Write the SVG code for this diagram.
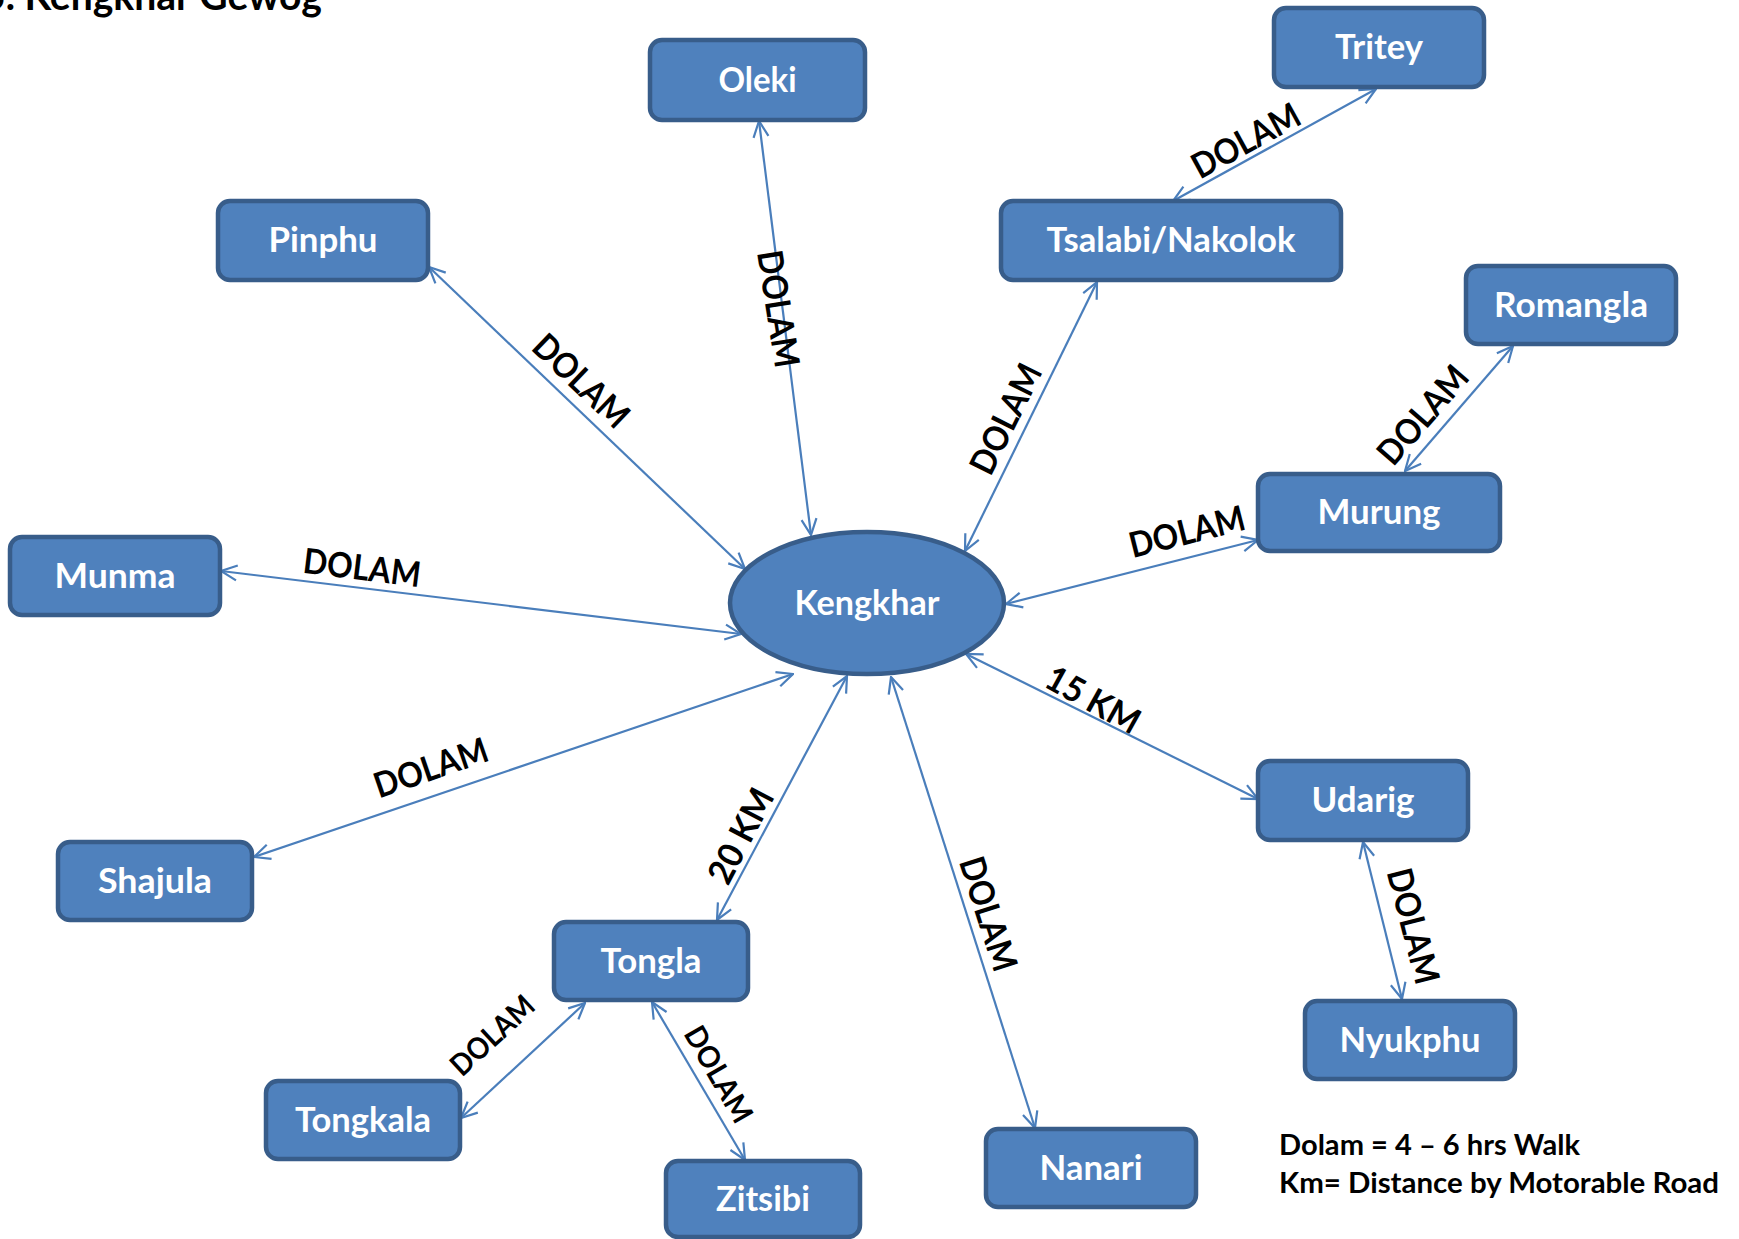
<svg xmlns="http://www.w3.org/2000/svg" width="1739" height="1239" viewBox="0 0 1739 1239">
<defs>
<marker id="ah" markerUnits="userSpaceOnUse" viewBox="0 0 18 18" markerWidth="18" markerHeight="18" refX="17" refY="9" orient="auto-start-reverse">
<path d="M1,1.5 L17,9 L1,16.5" fill="none" stroke="#4A7EBB" stroke-width="2.2"/>
</marker>
<style>
.box{fill:#4F81BD;stroke:#385D8A;stroke-width:4.5}
.nl{font-family:Lato,"Liberation Sans",sans-serif;font-weight:bold;font-size:34px;fill:#fff;text-anchor:middle}
.cn{stroke:#4A7EBB;stroke-width:2.2;fill:none;marker-start:url(#ah);marker-end:url(#ah)}
.el{font-family:Lato,"Liberation Sans",sans-serif;font-weight:bold;font-size:35px;fill:#000;text-anchor:middle}
.es{font-size:30px}
.tx{font-family:Lato,"Liberation Sans",sans-serif;font-weight:bold;fill:#000}
</style>
</defs>
<rect width="1739" height="1239" fill="#fff"/>
<text class="tx" x="-17" y="10" font-size="40" textLength="339" lengthAdjust="spacingAndGlyphs">5. Kengkhar Gewog</text>

<g id="connectors">
<line class="cn" x1="759" y1="121" x2="811" y2="535"/>
<line class="cn" x1="1376" y1="89" x2="1173" y2="201"/>
<line class="cn" x1="429" y1="267" x2="745" y2="569"/>
<line class="cn" x1="1097" y1="282" x2="965" y2="551"/>
<line class="cn" x1="1513" y1="346" x2="1405" y2="471"/>
<line class="cn" x1="1258" y1="540" x2="1006" y2="604"/>
<line class="cn" x1="221" y1="571" x2="741" y2="634"/>
<line class="cn" x1="254" y1="857" x2="793" y2="674"/>
<line class="cn" x1="717" y1="920" x2="847" y2="676"/>
<line class="cn" x1="1035" y1="1128" x2="891" y2="677"/>
<line class="cn" x1="1258" y1="799" x2="966" y2="654"/>
<line class="cn" x1="1363" y1="842" x2="1402" y2="999"/>
<line class="cn" x1="585" y1="1003" x2="461" y2="1118"/>
<line class="cn" x1="652" y1="1002" x2="745" y2="1160"/>

<g id="edge-labels">
<text class="el" transform="translate(778,309) rotate(81)" y="12" textLength="118" lengthAdjust="spacingAndGlyphs">DOLAM</text>
<text class="el" transform="translate(1246,141) rotate(-28.7)" y="12" textLength="118" lengthAdjust="spacingAndGlyphs">DOLAM</text>
<text class="el" transform="translate(581,381) rotate(43.7)" y="12" textLength="118" lengthAdjust="spacingAndGlyphs">DOLAM</text>
<text class="el" transform="translate(1006,419) rotate(-63.5)" y="12" textLength="118" lengthAdjust="spacingAndGlyphs">DOLAM</text>
<text class="el" transform="translate(1423,415) rotate(-49)" y="12" textLength="118" lengthAdjust="spacingAndGlyphs">DOLAM</text>
<text class="el" transform="translate(1187,532) rotate(-14.2)" y="12" textLength="118" lengthAdjust="spacingAndGlyphs">DOLAM</text>
<text class="el" transform="translate(362,568) rotate(7)" y="12" textLength="118" lengthAdjust="spacingAndGlyphs">DOLAM</text>
<text class="el" transform="translate(431,768) rotate(-19)" y="12" textLength="118" lengthAdjust="spacingAndGlyphs">DOLAM</text>
<text class="el" transform="translate(741,836) rotate(-62.3)" y="12" textLength="102" lengthAdjust="spacingAndGlyphs">20 KM</text>
<text class="el" transform="translate(988,914) rotate(72.3)" y="12" textLength="118" lengthAdjust="spacingAndGlyphs">DOLAM</text>
<text class="el" transform="translate(1093,700) rotate(29)" y="12" textLength="102" lengthAdjust="spacingAndGlyphs">15 KM</text>
<text class="el" transform="translate(1413,926) rotate(75.5)" y="12" textLength="118" lengthAdjust="spacingAndGlyphs">DOLAM</text>
<text class="el es" transform="translate(492,1035) rotate(-42.8)" y="11" textLength="102" lengthAdjust="spacingAndGlyphs">DOLAM</text>
<text class="el es" transform="translate(719,1074) rotate(60)" y="11" textLength="106" lengthAdjust="spacingAndGlyphs">DOLAM</text>
</g>
</g>

<g id="node-kengkhar"><ellipse class="box" cx="867" cy="603" rx="137" ry="71"/><text class="nl" x="867" y="615" textLength="145" lengthAdjust="spacingAndGlyphs">Kengkhar</text></g>
<g id="node-oleki"><rect class="box" x="650" y="40" width="215" height="80" rx="12"/><text class="nl" x="757.5" y="92" textLength="78" lengthAdjust="spacingAndGlyphs">Oleki</text></g>
<g id="node-tritey"><rect class="box" x="1274" y="8" width="210" height="79" rx="12"/><text class="nl" x="1379" y="59" textLength="88" lengthAdjust="spacingAndGlyphs">Tritey</text></g>
<g id="node-pinphu"><rect class="box" x="218" y="201" width="210" height="79" rx="12"/><text class="nl" x="323" y="252" textLength="109" lengthAdjust="spacingAndGlyphs">Pinphu</text></g>
<g id="node-tsalabi"><rect class="box" x="1001" y="201" width="340" height="79" rx="12"/><text class="nl" x="1171" y="252" textLength="249" lengthAdjust="spacingAndGlyphs">Tsalabi/Nakolok</text></g>
<g id="node-romangla"><rect class="box" x="1466" y="266" width="210" height="78" rx="12"/><text class="nl" x="1571" y="317" textLength="154" lengthAdjust="spacingAndGlyphs">Romangla</text></g>
<g id="node-murung"><rect class="box" x="1258" y="474" width="242" height="77" rx="12"/><text class="nl" x="1379" y="524" textLength="123" lengthAdjust="spacingAndGlyphs">Murung</text></g>
<g id="node-munma"><rect class="box" x="10" y="537" width="210" height="78" rx="12"/><text class="nl" x="115" y="588" textLength="121" lengthAdjust="spacingAndGlyphs">Munma</text></g>
<g id="node-udarig"><rect class="box" x="1258" y="761" width="210" height="79" rx="12"/><text class="nl" x="1363" y="812" textLength="103" lengthAdjust="spacingAndGlyphs">Udarig</text></g>
<g id="node-shajula"><rect class="box" x="58" y="842" width="194" height="78" rx="12"/><text class="nl" x="155" y="893" textLength="114" lengthAdjust="spacingAndGlyphs">Shajula</text></g>
<g id="node-tongla"><rect class="box" x="554" y="922" width="194" height="78" rx="12"/><text class="nl" x="651" y="973" textLength="101" lengthAdjust="spacingAndGlyphs">Tongla</text></g>
<g id="node-nyukphu"><rect class="box" x="1305" y="1001" width="210" height="78" rx="12"/><text class="nl" x="1410" y="1052" textLength="141" lengthAdjust="spacingAndGlyphs">Nyukphu</text></g>
<g id="node-tongkala"><rect class="box" x="266" y="1081" width="194" height="78" rx="12"/><text class="nl" x="363" y="1132" textLength="136" lengthAdjust="spacingAndGlyphs">Tongkala</text></g>
<g id="node-nanari"><rect class="box" x="986" y="1129" width="210" height="78" rx="12"/><text class="nl" x="1091" y="1180" textLength="103" lengthAdjust="spacingAndGlyphs">Nanari</text></g>
<g id="node-zitsibi"><rect class="box" x="666" y="1161" width="194" height="76" rx="12"/><text class="nl" x="763" y="1211" textLength="94" lengthAdjust="spacingAndGlyphs">Zitsibi</text></g>

<g id="legend">
<text class="tx" x="1279" y="1155" font-size="29" textLength="301" lengthAdjust="spacingAndGlyphs">Dolam = 4 – 6 hrs Walk</text>
<text class="tx" x="1279" y="1193" font-size="29" textLength="440" lengthAdjust="spacingAndGlyphs">Km= Distance by Motorable Road</text>
</g>
</svg>
